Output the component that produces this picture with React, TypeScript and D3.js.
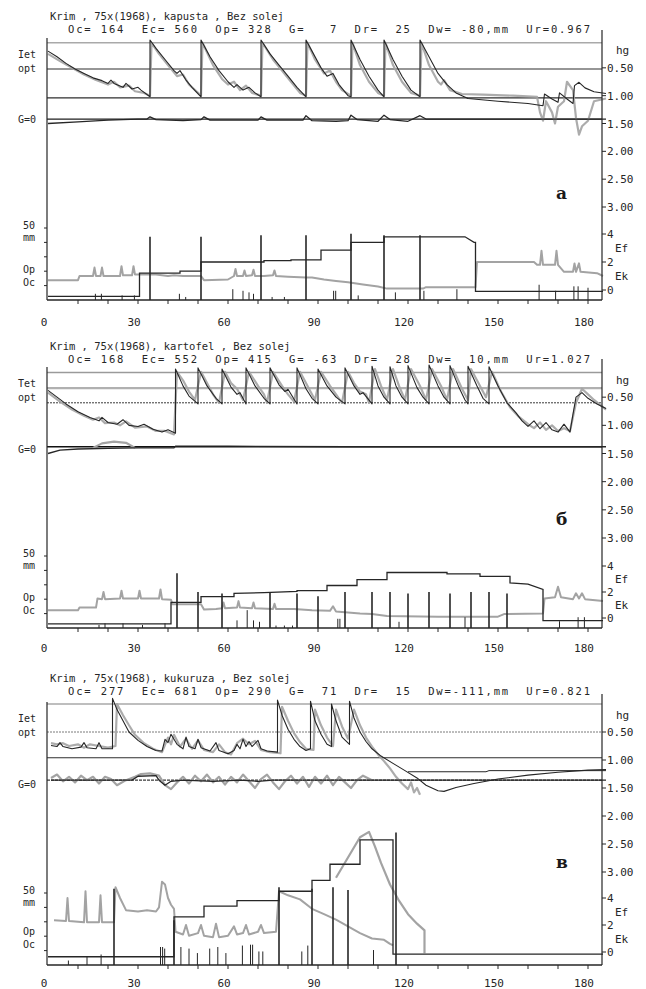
import React from 'react';
import * as d3 from 'd3';

type P = [number, number];

const W = 646;
const H = 989;
const xTickLabels = [0, 30, 60, 90, 120, 150, 180];
const xMinorTicks = [10, 20, 30, 40, 50, 60, 70, 80, 90, 100, 110, 120, 130, 140, 150, 160, 170, 180];
const hgTickValues = [0.5, 1.0, 1.5, 2.0, 2.5, 3.0];
const lowTickValues = [0, 2, 4];
const mmTickValues = [10, 20, 30, 40, 50];

// ---------- Panel a : kapusta ----------
const titleA1 = 'Krim , 75x(1968), kapusta , Bez solej';
const titleA2 = 'Oc= 164  Ec= 560  Op= 328  G=   7  Dr=  25  Dw= -80,mm  Ur=0.967';
const hgDarkA: P[] = [[0,0.2],[3,0.3],[6,0.42],[9,0.52],[12,0.6],[15,0.68],[18,0.73],[20,0.78],[21,0.72],[22,0.78],[25,0.85],[26,0.78],[28,0.88],[30,0.85],[31,0.9],[34,1.02],[34,0],[36,0.15],[39,0.35],[42,0.55],[43,0.6],[44,0.55],[46,0.72],[48,0.85],[51,1.02],[51,0],[54,0.3],[57,0.55],[60,0.75],[62,0.85],[63,0.8],[65,0.9],[67,0.85],[69,0.95],[71,1.02],[71,0],[74,0.25],[77,0.45],[80,0.65],[83,0.85],[86,1.02],[86,0],[88,0.2],[91,0.5],[93,0.65],[95,0.6],[97,0.8],[100,1.0],[101,1.02],[101,0],[104,0.35],[107,0.65],[110,0.9],[112,1.02],[112,0],[115,0.35],[118,0.65],[121,0.9],[124,1.02],[124,0],[127,0.3],[130,0.6],[133,0.8],[136,0.95],[140,1.05],[150,1.1],[160,1.14],[165,1.18],[165.5,0.97],[168,1.06],[170,1.12],[170.5,0.95],[173,1.06],[175,1.14],[175.5,0.82],[177,0.76],[179,0.86],[182,0.93],[186,0.96]];
const hgGreyA: P[] = [[0,0.25],[4,0.38],[8,0.5],[12,0.62],[16,0.72],[20,0.8],[22,0.75],[24,0.85],[27,0.82],[29,0.92],[32,0.95],[34,1.0],[34.5,0.05],[37,0.25],[40,0.45],[43,0.65],[45,0.62],[47,0.8],[50,0.95],[51,1.0],[51.5,0.05],[55,0.45],[58,0.7],[60,0.8],[62,0.75],[64,0.9],[66,0.82],[68,0.95],[71,1.0],[71.5,0.05],[75,0.35],[78,0.55],[81,0.75],[84,0.95],[86,1.0],[86.5,0.05],[89,0.35],[92,0.6],[94,0.55],[96,0.75],[98,0.9],[101,1.0],[101.5,0.05],[104,0.45],[107,0.75],[110,0.95],[112,1.0],[112.5,0.05],[115,0.45],[118,0.75],[121,0.95],[124,1.0],[124.5,0.05],[127,0.45],[130,0.75],[131,0.8],[132,0.72],[134,0.9],[138,0.97],[145,0.98],[155,1.0],[163,1.02],[164,1.3],[165,1.45],[166,1.1],[168,1.3],[169,1.5],[170,1.2],[172,1.1],[173,0.75],[175,0.9],[176,1.4],[177,1.7],[178,1.55],[180,1.45],[182,1.1],[186,1.05]];
const gDarkA: P[] = [[0,1.5],[10,1.47],[20,1.44],[30,1.42],[33,1.42],[34,1.38],[36,1.43],[45,1.45],[51,1.43],[52,1.38],[54,1.44],[70,1.44],[71,1.38],[73,1.44],[85,1.44],[86,1.36],[88,1.45],[96,1.46],[100,1.45],[101,1.35],[103,1.43],[110,1.46],[112,1.35],[114,1.43],[120,1.46],[124,1.36],[126,1.42],[130,1.42],[186,1.42]];
const gGreyA: P[] = [];
const thinA: P[] = [];
const stepA: P[] = [[0,-0.45],[30.5,-0.45],[30.5,1.2],[44,1.2],[44,1.35],[51,1.35],[51,2.0],[72,2.0],[72,2.1],[81,2.1],[81,2.15],[91,2.15],[91,2.85],[101,2.85],[101,3.4],[112,3.4],[112,3.8],[139,3.8],[142,3.4],[142.5,3.4],[142.5,-0.1],[185,-0.1]];
const ekA: P[] = [[0,0.7],[10,0.7],[10.5,1.0],[15,1.0],[15.5,1.6],[16,1.0],[17.5,1.0],[18,1.6],[18.5,1.0],[24,1.0],[24.5,1.7],[25,1.05],[28,1.05],[28.5,1.7],[29,1.1],[34,1.1],[36,1.1],[40,1.0],[42,1.05],[45,1.0],[51,1.0],[52,0.7],[60,0.75],[62,1.0],[62.5,1.5],[63,1.0],[65,1.0],[65.5,1.4],[66,1.0],[68,1.05],[68.5,1.45],[69,1.0],[72,1.0],[75,1.05],[75.5,1.4],[76,1.0],[80,0.95],[86,0.9],[88,0.9],[92,0.75],[96,0.65],[100,0.55],[105,0.4],[110,0.25],[113,0.1],[125,0.1],[126,0.2],[140,0.2],[142.5,0.2],[143,2.0],[162,2.0],[163,1.8],[164,1.8],[164.5,2.8],[165,1.8],[169,1.8],[169.5,2.8],[170,1.8],[172,1.3],[175,1.3],[175.5,1.9],[176,1.3],[177,1.9],[177.5,1.3],[183,1.2],[185,1.0]];
const ek2A: P[] = [];
const irrDaysA = [34, 51, 71, 86, 101, 112, 124];
const irrMmA = [44, 44, 45, 45, 46, 45, 45];
const rainDaysA = [15.8, 17.8, 24.7, 28.8, 43.8, 45.9, 61.6, 65, 67, 68.5, 74.7, 78.8, 95.2, 95.9, 103.4, 115.8, 125.3, 136.3, 163.7, 169.2, 175.3, 176.7, 180];
const rainMmA = [4.3, 4.3, 3.2, 3.2, 4.3, 2.1, 7.5, 6.4, 5.3, 4.3, 2.1, 2.1, 6.4, 6.4, 3.2, 5.3, 6.4, 7.5, 10.6, 6.4, 9.5, 9.5, 8.5];

// ---------- Panel b : kartofel ----------
const titleB1 = 'Krim , 75x(1968), kartofel , Bez solej';
const titleB2 = 'Oc= 168  Ec= 552  Op= 415  G= -63  Dr=  28  Dw=  10,mm  Ur=1.027';
const hgDarkB: P[] = [[0,0.38],[3,0.5],[6,0.62],[10,0.76],[14,0.86],[17,0.92],[18,0.86],[20,0.95],[23,0.98],[25,0.9],[27,1.0],[30,1.02],[32,0.98],[35,1.07],[38,1.12],[40,1.08],[42.5,1.14],[42.5,0.0],[45,0.3],[47,0.48],[50,0.62],[50,-0.02],[53,0.3],[56,0.52],[58,0.62],[58,0.0],[61,0.32],[63,0.45],[64,0.42],[66,0.62],[66,-0.02],[69,0.3],[72,0.52],[74,0.62],[74,-0.02],[77,0.28],[79,0.4],[80,0.36],[83,0.62],[83,-0.02],[86,0.35],[88,0.52],[90,0.62],[90,0.0],[93,0.3],[96,0.5],[99,0.62],[99,-0.02],[102,0.3],[104,0.45],[105,0.42],[108,0.62],[108,-0.05],[110,0.3],[112,0.5],[114,0.62],[114,-0.04],[116,0.3],[118,0.5],[120,0.62],[120,-0.06],[123,0.33],[125,0.5],[127,0.62],[127,-0.07],[130,0.3],[132,0.5],[134,0.62],[134,-0.06],[137,0.33],[139,0.55],[140,0.62],[140,-0.05],[143,0.3],[145,0.52],[147,0.62],[147,-0.04],[150,0.3],[153,0.6],[156,0.78],[158,0.92],[160,1.02],[162,0.92],[164,1.06],[166,0.95],[168,1.08],[170,1.12],[172,0.98],[174,1.12],[175,0.8],[176,0.5],[178,0.42],[180,0.52],[183,0.62],[186,0.7]];
const hgGreyB: P[] = [[0,0.42],[4,0.58],[8,0.72],[12,0.83],[15,0.9],[17,0.86],[19,0.96],[22,0.95],[24,1.0],[26,0.93],[29,1.04],[33,1.02],[36,1.1],[39,1.1],[42,1.16],[43,0.05],[45,0.2],[47,0.4],[49,0.55],[51,0.05],[53,0.25],[55,0.45],[57,0.6],[59,0.05],[61,0.25],[63,0.35],[65,0.55],[67,0.05],[70,0.3],[72,0.45],[73,0.6],[75,0.05],[78,0.3],[80,0.45],[82,0.58],[84,0.05],[87,0.35],[89,0.55],[91,0.05],[94,0.3],[96,0.45],[98,0.6],[100,0.05],[102,0.25],[104,0.4],[106,0.45],[107,0.6],[109,0.0],[111,0.3],[113,0.55],[115,0.0],[117,0.3],[119,0.55],[121,0.0],[124,0.3],[126,0.55],[128,0.0],[131,0.3],[133,0.55],[135,0.0],[138,0.35],[140,0.55],[141,0.0],[144,0.3],[146,0.5],[148,0.05],[151,0.4],[154,0.68],[157,0.85],[160,0.98],[162,1.05],[164,0.95],[166,1.08],[168,1.0],[170,1.1],[172,1.05],[174,1.1],[176,0.6],[178,0.35],[180,0.45],[182,0.55],[186,0.72]];
const gDarkB: P[] = [[0,1.5],[4,1.44],[10,1.42],[20,1.41],[30,1.4],[42,1.4],[42.5,1.37],[60,1.37],[100,1.38],[150,1.38],[186,1.38]];
const gGreyB: P[] = [[15,1.4],[18,1.32],[22,1.29],[26,1.31],[29,1.4]];
const thinB: P[] = [];
const stepB: P[] = [[0,-0.45],[41,-0.45],[41,1.2],[51,1.2],[51,1.65],[62,1.65],[62,1.9],[72,1.95],[83,2.05],[83,2.1],[93,2.1],[93,2.5],[103,2.5],[103,2.95],[113,2.95],[113,3.5],[133,3.5],[133,3.4],[144,3.4],[144,3.2],[154,3.2],[154,2.7],[160,2.6],[165,2.2],[165,-0.2],[185,-0.2]];
const ekB: P[] = [[0,0.6],[10,0.6],[10.5,0.8],[16,0.8],[16.5,1.5],[18,1.45],[18.5,2.0],[19,1.45],[24,1.5],[24.5,2.1],[25,1.5],[30,1.5],[30.5,2.1],[31,1.5],[37,1.5],[37.5,2.2],[38,1.45],[41,1.4],[41.5,1.05],[51,1.05],[52,0.65],[56,0.7],[58,0.75],[58.5,1.2],[59,0.75],[63,0.8],[63.5,1.3],[64,0.8],[68,0.75],[68.5,1.2],[69,0.75],[75,0.7],[75.5,1.1],[76,0.7],[82,0.7],[88,0.6],[94,0.55],[95,0.9],[96,0.5],[104,0.35],[108,0.3],[113,0.15],[130,0.1],[150,0.1],[152,0.3],[165,0.35],[165.5,1.5],[169,1.6],[170,2.4],[171,1.6],[175,1.45],[176,1.9],[177,1.5],[178,1.9],[179,1.45],[185,1.3]];
const ek2B: P[] = [];
const irrDaysB = [43, 50, 58, 74, 83, 90, 99, 108, 114, 120, 127, 134, 141, 147, 153];
const irrMmB = [38, 25, 24, 25, 24, 22, 25, 25, 25, 24, 25, 24, 25, 25, 24];
const rainDaysB = [17, 19, 25, 31.5, 39, 63, 66.4, 68.5, 70.5, 76, 78.8, 81.5, 96.6, 97.3, 117, 139, 170.5, 176.7, 178.8];
const rainMmB = [2.1, 3.2, 3.2, 2.1, 3.2, 5.3, 12.4, 5.3, 4.3, 1.7, 1.7, 1.7, 6.4, 6.4, 4.3, 7.5, 4.7, 7.5, 7.5];

// ---------- Panel v : kukuruza ----------
const titleC1 = 'Krim , 75x(1968), kukuruza , Bez solej';
const titleC2 = 'Oc= 277  Ec= 681  Op= 290  G=  71  Dr=  15  Dw=-111,mm  Ur=0.821';
const hgDarkC: P[] = [[1,0.74],[3,0.76],[4,0.69],[5,0.76],[8,0.8],[11,0.77],[12,0.69],[13,0.78],[16,0.8],[17,0.69],[18,0.8],[21.5,0.8],[21.5,-0.1],[23,0.1],[25,0.3],[27,0.5],[30,0.65],[33,0.76],[36,0.83],[38,0.84],[39,0.63],[40,0.69],[41,0.54],[43,0.72],[45,0.8],[46,0.59],[47,0.76],[49,0.8],[50,0.63],[51,0.78],[54,0.84],[56,0.69],[57,0.83],[60,0.89],[62,0.83],[63,0.72],[64,0.8],[65,0.63],[66,0.76],[67,0.67],[68,0.76],[70,0.65],[71,0.8],[73,0.84],[76.5,0.86],[76.5,-0.07],[78,0.2],[80,0.45],[82,0.63],[84,0.76],[86,0.83],[87.5,0.8],[87.5,-0.05],[89,0.3],[91,0.54],[93,0.72],[94.5,0.76],[94.5,0.0],[96,0.3],[98,0.59],[100.5,0.72],[100.5,-0.05],[102,0.25],[104,0.5],[106,0.67],[108,0.8],[111,0.93],[115,1.06],[119,1.19],[123,1.32],[126,1.45],[130,1.55],[132,1.56],[136,1.49],[142,1.42],[150,1.34],[160,1.27],[170,1.22],[180,1.18],[186,1.17]];
const hgGreyC: P[] = [[1,0.7],[3,0.72],[5,0.7],[7,0.75],[10,0.72],[12,0.78],[14,0.72],[17,0.75],[20,0.78],[22.5,0.75],[23,0.0],[25,0.2],[27,0.38],[29,0.55],[32,0.7],[35,0.8],[38,0.86],[40,0.6],[41,0.72],[42,0.55],[44,0.76],[46,0.62],[48,0.8],[50,0.65],[52,0.82],[55,0.86],[57,0.72],[59,0.86],[61,0.9],[63,0.7],[65,0.62],[67,0.72],[69,0.66],[71,0.82],[74,0.86],[77.5,0.88],[78,0.05],[80,0.3],[82,0.52],[84,0.68],[86,0.8],[88.5,0.82],[89,0.1],[91,0.38],[93,0.6],[95,0.75],[96,0.1],[98,0.4],[100,0.62],[102,0.1],[104,0.38],[106,0.6],[108,0.76],[110,0.9],[112,1.02],[114,1.15],[116,1.3],[118,1.42],[120,1.52],[121,1.4],[122,1.58],[123,1.5],[124,1.62]];
const gDarkC: P[] = [[1,1.36],[28,1.36],[30,1.29],[36,1.28],[37,1.36],[39,1.45],[41,1.38],[45,1.36],[55,1.38],[64,1.36],[70,1.38],[75,1.36],[110,1.36],[186,1.36]];
const gGreyC: P[] = [[1,1.32],[3,1.26],[5,1.38],[7,1.3],[9,1.4],[11,1.28],[13,1.36],[15,1.3],[17,1.42],[19,1.3],[21,1.34],[23,1.45],[26,1.36],[29,1.3],[31,1.25],[34,1.24],[37,1.28],[39,1.45],[41,1.52],[43,1.4],[45,1.3],[47,1.42],[49,1.28],[51,1.38],[53,1.26],[55,1.4],[57,1.3],[59,1.44],[61,1.3],[63,1.4],[65,1.26],[67,1.38],[69,1.5],[71,1.34],[73,1.26],[75,1.4],[77,1.52],[79,1.38],[81,1.28],[83,1.42],[85,1.3],[87,1.48],[89,1.3],[91,1.42],[93,1.28],[95,1.45],[97,1.3],[99,1.4],[101,1.5],[103,1.36],[105,1.28],[108,1.36]];
const thinC: P[] = [[120,1.21],[146,1.21],[147,1.19],[186,1.19]];
const stepC: P[] = [[0,-0.35],[42,-0.35],[42,2.6],[52,2.6],[52,3.4],[63,3.4],[63,3.8],[77,3.8],[77,4.5],[88,4.5],[88,5.3],[94,5.3],[94,6.5],[104,6.5],[104,8.3],[115,8.3],[115,-0.15],[185,-0.15]];
const ekC: P[] = [[2,2.35],[6,2.3],[6.5,4.0],[7,2.3],[12,2.2],[12.5,4.5],[13,2.2],[17,2.2],[17.5,4.2],[18,2.2],[22,2.2],[22.5,4.8],[24,4.0],[26,3.1],[30,3.0],[33,3.1],[36,3.0],[37,3.3],[38,5.2],[39,5.0],[40,4.0],[41,3.5],[42,3.2],[42.5,1.5],[45,1.3],[46,2.0],[47,1.2],[50,1.4],[51,2.0],[52,1.2],[55,1.1],[56,2.1],[57,1.1],[60,1.2],[62,1.9],[63,1.3],[65,1.4],[66,2.0],[67,1.3],[70,1.5],[71,2.0],[72,1.4],[76,1.5],[77,4.5],[80,4.2],[84,3.9],[88,3.2],[92,2.8],[96,2.4],[100,1.9],[104,1.4],[108,1.0],[112,0.9],[114,0.6],[115,0.5]];
const ek2C: P[] = [[96,5.5],[100,7.0],[104,8.5],[107,8.9],[109,7.8],[111,6.6],[114,5.0],[117,3.8],[120,2.8],[123,2.1],[125.5,1.6],[125.5,-0.1]];
const irrDaysC = [22, 42, 77, 88, 95, 100, 116];
const irrMmC = [53, 31, 54, 53, 54, 52, 92];
const rainDaysC = [6.8, 13, 17.7, 37.5, 38.2, 38.9, 44.3, 47, 49.8, 53.9, 56.6, 59.3, 64.8, 67.5, 68.2, 70.3, 71.6, 84.6, 86.6, 108.5];
const rainMmC = [3.1, 6.2, 7.3, 12.5, 12.5, 11.4, 12.5, 11.4, 8.3, 11.4, 12.5, 8.3, 13.5, 14.1, 14.1, 9.4, 9.4, 9.4, 13.5, 10.4];

type HLine = { v: number; c: string; w: number; dash?: string };
type Cfg = {
  t1: string; t2: string; t1y: number; t2y: number; letter: string; letterY: number; tet: string;
  hg0: number; hg3: number; low0: number; low4: number; axis: number; labelY: number;
  hlines: HLine[]; dark: P[]; grey: P[]; gDark: P[]; gGrey: P[]; thin: P[];
  step: P[]; ek: P[]; ek2: P[]; irrD: number[]; irrM: number[]; rainD: number[]; rainM: number[];
};

const panels: Cfg[] = [
  {
    t1: titleA1, t2: titleA2, t1y: 20, t2y: 33, letter: 'a', letterY: 199, tet: 'Iet',
    hg0: 40, hg3: 207, low0: 290, low4: 234, axis: 300, labelY: 326,
    hlines: [
      { v: 0.05, c: '#a9a9a9', w: 1.6 },
      { v: 0.52, c: '#2e2e2e', w: 1.1 },
      { v: 1.04, c: '#2e2e2e', w: 1.1 },
      { v: 1.42, c: '#1e1e1e', w: 1.3 },
    ],
    dark: hgDarkA, grey: hgGreyA, gDark: gDarkA, gGrey: gGreyA, thin: thinA,
    step: stepA, ek: ekA, ek2: ek2A, irrD: irrDaysA, irrM: irrMmA, rainD: rainDaysA, rainM: rainMmA,
  },
  {
    t1: titleB1, t2: titleB2, t1y: 350, t2y: 363, letter: 'б', letterY: 525, tet: 'Tet',
    hg0: 369, hg3: 538, low0: 618, low4: 566, axis: 628, labelY: 652,
    hlines: [
      { v: 0.06, c: '#9a9a9a', w: 1.5 },
      { v: 0.34, c: '#b0b0b0', w: 2.4 },
      { v: 0.6, c: '#3a3a3a', w: 1, dash: '2,1' },
      { v: 1.38, c: '#111', w: 1.6 },
    ],
    dark: hgDarkB, grey: hgGreyB, gDark: gDarkB, gGrey: gGreyB, thin: thinB,
    step: stepB, ek: ekB, ek2: ek2B, irrD: irrDaysB, irrM: irrMmB, rainD: rainDaysB, rainM: rainMmB,
  },
  {
    t1: titleC1, t2: titleC2, t1y: 682, t2y: 695, letter: 'в', letterY: 868, tet: 'Iet',
    hg0: 704, hg3: 872, low0: 952, low4: 898, axis: 965, labelY: 987,
    hlines: [
      { v: 0.0, c: '#a9a9a9', w: 1.5 },
      { v: 0.5, c: '#7a7a7a', w: 1, dash: '2,1' },
      { v: 0.96, c: '#2e2e2e', w: 1.1 },
      { v: 1.36, c: '#3a3a3a', w: 1.1, dash: '3,1' },
    ],
    dark: hgDarkC, grey: hgGreyC, gDark: gDarkC, gGrey: gGreyC, thin: thinC,
    step: stepC, ek: ekC, ek2: ek2C, irrD: irrDaysC, irrM: irrMmC, rainD: rainDaysC, rainM: rainMmC,
  },
];

const FONT = '"DejaVu Sans Mono", "Liberation Mono", monospace';
const INK = '#262626';
const GREY = '#a3a3a3';

function Panel({ cfg }: { cfg: Cfg }) {
  const x = d3.scaleLinear().domain([0, 180]).range([48, 588]);
  const hg = d3.scaleLinear().domain([0, 3]).range([cfg.hg0, cfg.hg3]);
  const low = d3.scaleLinear().domain([0, 4]).range([cfg.low0, cfg.low4]);
  const mm = d3.scaleLinear().domain([0, 50]).range([cfg.axis, cfg.axis - 72]);
  const lineHg = d3.line<P>().x((d) => x(d[0])).y((d) => hg(d[1]));
  const lineLow = d3.line<P>().x((d) => x(d[0])).y((d) => low(d[1]));
  const xL = 47;
  const xR = 602;
  const topY = hg(0) - 2;
  const txt = { fontFamily: FONT, fontSize: 11, fill: INK } as const;
  const sm = { fontFamily: FONT, fontSize: 10, fill: INK } as const;

  return (
    <g>
      <text x={50} y={cfg.t1y} {...sm} fontSize={10.5}>{cfg.t1}</text>
      <text x={68} y={cfg.t2y} {...sm} fontSize={10.5} textLength={522} lengthAdjust="spacing" style={{ whiteSpace: 'pre' }}>{cfg.t2}</text>

      {cfg.hlines.map((h, i) => (
        <line key={i} x1={xL} x2={xR} y1={hg(h.v)} y2={hg(h.v)} stroke={h.c} strokeWidth={h.w} strokeDasharray={h.dash} />
      ))}

      <path d={lineHg(cfg.grey) || ''} fill="none" stroke={GREY} strokeWidth={2.2} strokeLinejoin="round" opacity={0.9} />
      {cfg.gGrey.length > 0 && <path d={lineHg(cfg.gGrey) || ''} fill="none" stroke={GREY} strokeWidth={2.2} strokeLinejoin="round" />}
      <path d={lineHg(cfg.dark) || ''} fill="none" stroke={INK} strokeWidth={1.1} strokeLinejoin="round" />
      <path d={lineHg(cfg.gDark) || ''} fill="none" stroke={INK} strokeWidth={1.3} strokeLinejoin="round" />
      {cfg.thin.length > 0 && <path d={lineHg(cfg.thin) || ''} fill="none" stroke={INK} strokeWidth={1} />}

      <path d={lineLow(cfg.ek) || ''} fill="none" stroke={GREY} strokeWidth={2} strokeLinejoin="round" />
      {cfg.ek2.length > 0 && <path d={lineLow(cfg.ek2) || ''} fill="none" stroke={GREY} strokeWidth={2.2} strokeLinejoin="round" />}
      <path d={lineLow(cfg.step) || ''} fill="none" stroke={INK} strokeWidth={1.3} />

      {cfg.irrD.map((d, i) => (
        <line key={'ir' + i} x1={x(d)} x2={x(d)} y1={mm(0)} y2={mm(cfg.irrM[i])} stroke={INK} strokeWidth={1.6} />
      ))}
      {cfg.rainD.map((d, i) => (
        <line key={'rn' + i} x1={x(d)} x2={x(d)} y1={mm(0)} y2={mm(cfg.rainM[i])} stroke={INK} strokeWidth={1} />
      ))}

      <line x1={xL} x2={xL} y1={topY} y2={cfg.axis} stroke={INK} strokeWidth={1.2} />
      <line x1={xR} x2={xR} y1={topY - 8} y2={cfg.axis} stroke={INK} strokeWidth={1.2} />
      <line x1={xL} x2={xR} y1={cfg.axis} y2={cfg.axis} stroke={INK} strokeWidth={1.3} />

      {xMinorTicks.map((d) => (
        <line key={'xt' + d} x1={x(d)} x2={x(d)} y1={cfg.axis} y2={cfg.axis + 4} stroke={INK} strokeWidth={1} />
      ))}
      {xTickLabels.map((d) => (
        <text key={'xl' + d} x={x(d) - 4} y={cfg.labelY} textAnchor="middle" {...txt}>{d}</text>
      ))}

      {mmTickValues.map((v) => (
        <line key={'mt' + v} x1={xL - 3} x2={xL} y1={mm(v)} y2={mm(v)} stroke={INK} strokeWidth={1} />
      ))}

      <text x={xR + 14} y={hg(0.26)} {...txt}>hg</text>
      {hgTickValues.map((v) => (
        <g key={'hg' + v}>
          <line x1={xR} x2={xR + 4} y1={hg(v)} y2={hg(v)} stroke={INK} strokeWidth={1} />
          <text x={xR + 5} y={hg(v) + 4} {...txt}>{v.toFixed(2)}</text>
        </g>
      ))}
      {lowTickValues.map((v) => (
        <g key={'lw' + v}>
          <line x1={xR} x2={xR + 4} y1={low(v)} y2={low(v)} stroke={INK} strokeWidth={1} />
          <text x={xR + 5} y={low(v) + 4} {...txt}>{v}</text>
        </g>
      ))}
      <text x={xR + 13} y={low(3) + 4} {...txt}>Ef</text>
      <text x={xR + 13} y={low(1) + 4} {...txt}>Ek</text>

      <text x={18} y={hg(0.32)} {...sm}>{cfg.tet}</text>
      <text x={18} y={hg(0.57)} {...sm}>opt</text>
      <text x={18} y={hg(1.42) + 4} {...sm}>G=0</text>
      <text x={23} y={mm(50) + 1} {...sm}>50</text>
      <text x={23} y={mm(50) + 13} {...sm}>mm</text>
      <text x={23} y={cfg.low0 - 17} {...sm}>Op</text>
      <text x={23} y={cfg.low0 - 4} {...sm}>Oc</text>

      <text x={556} y={cfg.letterY} fontFamily='"DejaVu Serif", serif' fontWeight="bold" fontSize={17} fill="#1a1a1a">{cfg.letter}</text>
    </g>
  );
}

export default function App() {
  return (
    <svg width={W} height={H} viewBox={`0 0 ${W} ${H}`} style={{ position: 'absolute', left: 0, top: 0, background: '#fff' }}>
      <rect x={0} y={0} width={W} height={H} fill="#fff" />
      {panels.map((p, i) => (
        <Panel key={i} cfg={p} />
      ))}
    </svg>
  );
}
